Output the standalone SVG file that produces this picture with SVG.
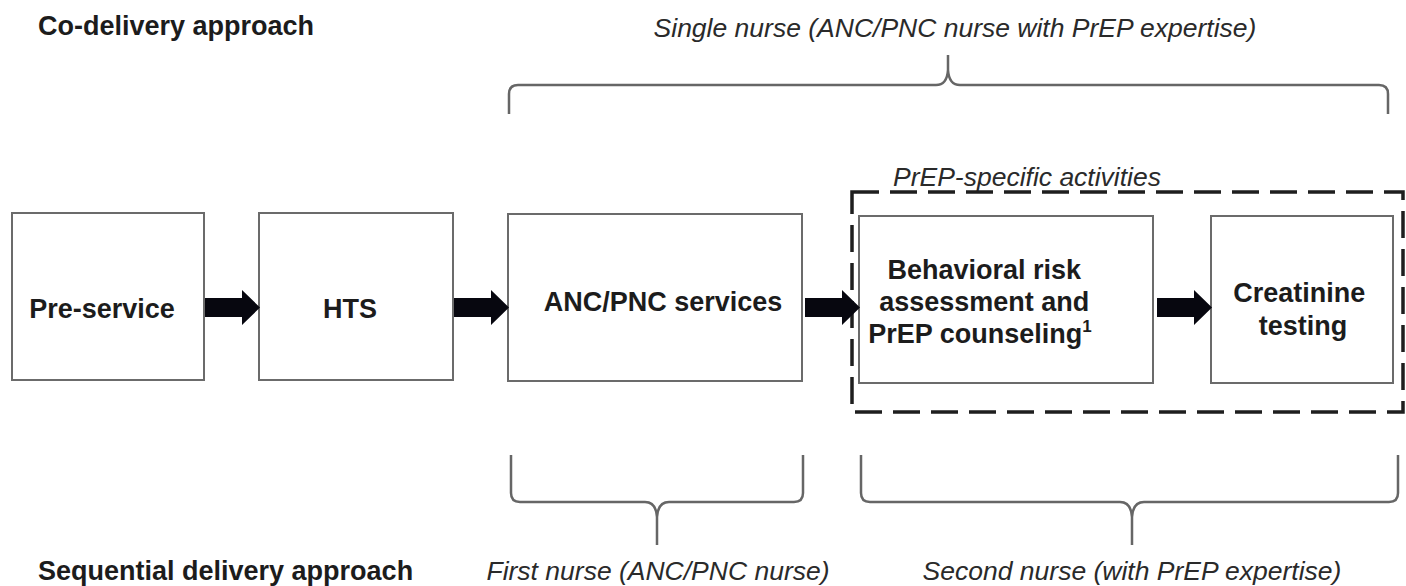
<svg xmlns="http://www.w3.org/2000/svg" width="1406" height="586" viewBox="0 0 1406 586">
  <defs>
    <style>
      .box { fill: #ffffff; stroke: #6b6b6b; stroke-width: 2; }
      .lbl { font-family: "Liberation Sans", Arial, sans-serif; font-weight: bold; font-size: 27px; fill: #1c1c1c; }
      .head { font-family: "Liberation Sans", Arial, sans-serif; font-weight: bold; font-size: 27px; fill: #1c1c1c; }
      .note { font-family: "Liberation Sans", Arial, sans-serif; font-style: italic; font-size: 26.5px; fill: #2a2a2a; }
      .brace { fill: none; stroke: #666666; stroke-width: 2.5; stroke-linejoin: round; }
      .arrow { fill: #07070f; }
      .group { fill: none; stroke: #1e1e1e; stroke-width: 3.5; stroke-dasharray: 27 11; }
    </style>
    <!-- block arrow pointing right, tip at origin -->
    <path id="blockArrow" d="M-55,-9.5 L-18,-9.5 L-18,-17.5 L0,0 L-18,17.5 L-18,9.5 L-55,9.5 Z"/>
  </defs>

  <rect width="1406" height="586" fill="#ffffff"/>

  <!-- approach headings -->
  <text class="head" x="38" y="35">Co-delivery approach</text>
  <text class="head" x="38" y="580">Sequential delivery approach</text>

  <!-- staffing annotations -->
  <g id="single-nurse">
    <text class="note" x="955" y="37" text-anchor="middle">Single nurse (ANC/PNC nurse with PrEP expertise)</text>
    <path class="brace" d="M509,114 L509,94 Q509,85 518,85 L936,85 Q947,85 948,70 L948,55 M948,70 Q949,85 960,85 L1379,85 Q1388,85 1388,94 L1388,114"/>
  </g>
  <g id="first-nurse">
    <path class="brace" d="M511,455 L511,493 Q511,502 520,502 L645,502 Q656,502 657,517 L657,545 M657,517 Q658,502 669,502 L794,502 Q803,502 803,493 L803,455"/>
    <text class="note" x="658" y="580" text-anchor="middle">First nurse (ANC/PNC nurse)</text>
  </g>
  <g id="second-nurse">
    <path class="brace" d="M861,455 L861,493 Q861,502 870,502 L1120,502 Q1131,502 1132,517 L1132,545 M1132,517 Q1133,502 1144,502 L1389,502 Q1398,502 1398,493 L1398,455"/>
    <text class="note" x="1132" y="580" text-anchor="middle">Second nurse (with PrEP expertise)</text>
  </g>

  <!-- PrEP-specific grouping -->
  <g id="prep-activities">
    <text class="note" x="1027" y="186" text-anchor="middle">PrEP-specific activities</text>
    <rect class="group" x="852" y="192" width="551" height="220"/>
  </g>

  <!-- process steps -->
  <g id="pre-service">
    <rect class="box" x="12" y="213" width="192" height="167"/>
    <text class="lbl" x="102" y="318" text-anchor="middle">Pre-service</text>
  </g>
  <g id="hts">
    <rect class="box" x="259" y="213" width="194" height="167"/>
    <text class="lbl" x="350" y="318" text-anchor="middle">HTS</text>
  </g>
  <g id="anc-pnc">
    <rect class="box" x="508" y="214" width="294" height="167"/>
    <text class="lbl" x="663" y="311" text-anchor="middle">ANC/PNC services</text>
  </g>
  <g id="risk-assessment">
    <rect class="box" x="859" y="216" width="294" height="167"/>
    <text class="lbl" text-anchor="middle">
      <tspan x="988" y="279">Behavioral risk</tspan>
      <tspan x="988" y="311">assessment and</tspan>
      <tspan x="980" y="343">PrEP counseling</tspan><tspan font-size="17" dy="-11">1</tspan>
    </text>
  </g>
  <g id="creatinine">
    <rect class="box" x="1211" y="216" width="182" height="167"/>
    <text class="lbl" text-anchor="middle">
      <tspan x="1303" y="302">Creatinine</tspan>
      <tspan x="1303" y="335">testing</tspan>
    </text>
  </g>

  <!-- connectors -->
  <g id="connectors" class="arrow">
    <use href="#blockArrow" x="260" y="307.5"/>
    <use href="#blockArrow" x="509" y="307.5"/>
    <use href="#blockArrow" x="860" y="307.5"/>
    <use href="#blockArrow" x="1212" y="307.5"/>
  </g>
</svg>
